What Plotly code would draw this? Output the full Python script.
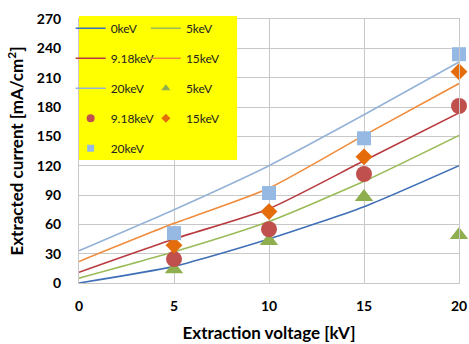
import plotly.graph_objects as go

# ---- data ----
x_line = [0, 5, 10, 15, 20]
line_0kev = [0, 17, 45, 78, 120]
line_5kev = [5, 32, 63, 104, 151]
line_918kev = [11, 45, 76, 125, 174]
line_15kev = [22, 61, 97, 151, 204]
line_20kev = [33, 75, 120, 172, 226]

x_meas = [5, 10, 15, 20]
meas_5kev = [14, 43, 88, 49]
meas_918kev = [24.5, 55, 111.5, 181]
meas_15kev = [38.5, 73, 129, 216]
meas_20kev = [51, 92, 148, 234]

x_ticks = [0, 5, 10, 15, 20]
y_ticks = [0, 30, 60, 90, 120, 150, 180, 210, 240, 270]

FONT = "Lato"

fig = go.Figure()

def add_line(y, name, color, legend):
    fig.add_trace(go.Scatter(
        x=x_line, y=y, mode="lines", name=name, showlegend=False,
        line=dict(color=color, width=1.6, shape="spline", smoothing=0.6),
    ))
    # legend entry
    fig.add_trace(go.Scatter(
        x=[None], y=[None], mode="lines", name=name,
        line=dict(color=color, width=1.6),
        legend=legend, legendgroup=name + legend,
    ))

def add_marker(y, name, color, symbol, size, legend_size, legend):
    fig.add_trace(go.Scatter(
        x=x_meas, y=y, mode="markers", name=name, showlegend=False,
        marker=dict(color=color, symbol=symbol, size=size),
        cliponaxis=False,
    ))
    fig.add_trace(go.Scatter(
        x=[None], y=[None], mode="markers", name=name,
        marker=dict(color=color, symbol=symbol, size=legend_size),
        legend=legend, legendgroup=name + legend + "m",
    ))

# column 1 of the legend: 0keV, 9.18keV, 20keV (line), 9.18keV (circle), 20keV (square)
# column 2 of the legend: 5keV, 15keV, 5keV (triangle), 15keV (diamond)
add_line(line_0kev, "0keV", "#3F6FB6", "legend")
add_line(line_5kev, "5keV", "#9BBB59", "legend2")
add_line(line_918kev, "9.18keV", "#B83A3F", "legend")
add_line(line_15kev, "15keV", "#F08C3C", "legend2")
add_line(line_20kev, "20keV", "#95B3D7", "legend")
add_marker(meas_5kev, "5keV", "#8FAE4F", "triangle-up", 16, 8, "legend2")
add_marker(meas_918kev, "9.18keV", "#C0504D", "circle", 16, 8, "legend")
add_marker(meas_15kev, "15keV", "#E46C0A", "diamond", 13, 7, "legend2")
add_marker(meas_20kev, "20keV", "#95B9E2", "square", 14, 7, "legend")

legend_common = dict(
    bgcolor="rgba(0,0,0,0)", font=dict(family=FONT, size=12, color="#222"),
    itemsizing="trace", tracegroupgap=11, itemwidth=30,
    yanchor="top", xanchor="left",
)

fig.update_layout(
    width=469, height=344,
    margin=dict(l=79, r=10, t=19, b=61, autoexpand=False),
    paper_bgcolor="white", plot_bgcolor="white",
    font=dict(family=FONT, color="#000"),
    legend=dict(x=-0.022, y=1.02, **legend_common),
    legend2=dict(x=0.176, y=1.02, **legend_common),
    shapes=[dict(type="rect", xref="paper", yref="paper",
                 x0=0, x1=0.416, y0=0.466, y1=1.011,
                 fillcolor="#FFFF00", line=dict(width=0), layer="above")],
    xaxis=dict(
        range=[0, 20], tickvals=x_ticks, showgrid=True, gridcolor="#C8C8C8",
        showline=True, linecolor="#C8C8C8", mirror=True, zeroline=False,
        automargin=False, ticklabelstandoff=10,
        ticks="", tickfont=dict(family=FONT, size=14, color="#000", weight="bold"),
        title=dict(text="Extraction voltage [kV]", standoff=14,
                   font=dict(family=FONT, size=17, color="#000", weight="bold")),
    ),
    yaxis=dict(
        range=[0, 270], tickvals=y_ticks, showgrid=True, gridcolor="#C8C8C8",
        showline=True, linecolor="#C8C8C8", mirror=True, zeroline=False,
        automargin=False, ticklabelstandoff=14,
        ticks="", tickfont=dict(family=FONT, size=14, color="#000", weight="bold"),
        title=dict(text="Extracted current [mA/cm<sup>2</sup>]", standoff=8,
                   font=dict(family=FONT, size=17, color="#000", weight="bold")),
    ),
)

fig.write_html("out.html", config={"displayModeBar": False},
               post_script="document.body.style.margin='0';")
